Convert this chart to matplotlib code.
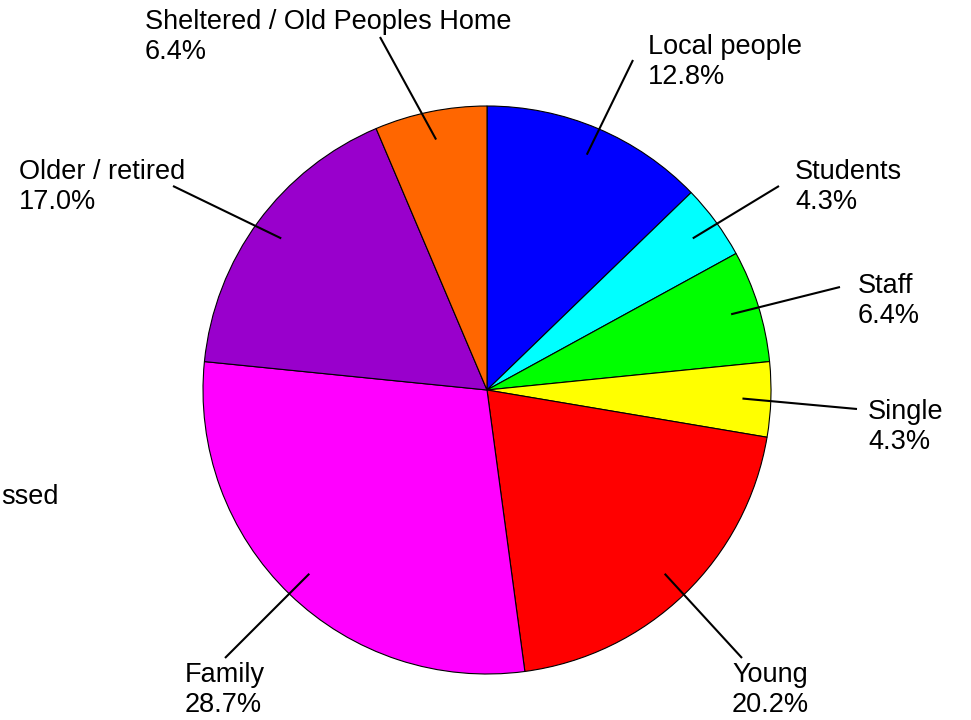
import matplotlib
matplotlib.use("Agg")
import matplotlib.pyplot as plt
import numpy as np

# ---- data ----
categories = ["Local people", "Students", "Staff", "Single", "Young",
              "Family", "Older / retired", "Sheltered / Old Peoples Home"]
counts = [12, 4, 6, 4, 19, 27, 16, 6]
colors = ["#0000FF", "#00FFFF", "#00FF00", "#FFFF00", "#FF0000",
          "#FF00FF", "#9900CC", "#FF6600"]
extra_label = "ssed"

# ---- layout (pixel positions in a 971x720 canvas) ----
W, H = 971, 720
CX, CY, R = 487, 390, 284
# outer end of leader lines
line_ends = [(633, 60), (779, 186), (840, 287), (857, 409),
             (742, 658), (225, 658), (173, 186), (380, 37)]
# text anchors: (left, top)
text_pos = [(648, 34), (795, 159), (858, 273), (868, 399),
            (732, 662), (185, 662), (19, 159), (145, 9)]


def P(px, py):
    return (px - CX) / R, (CY - py) / R


plt.rcParams["font.family"] = ["Liberation Sans", "DejaVu Sans"]
FS = 19.5

fig = plt.figure(figsize=(W / 100, H / 100), dpi=100)
ax = fig.add_axes([0, 0, 1, 1])

wedges, _ = ax.pie(counts, colors=colors, startangle=90, counterclock=False,
                   radius=1, wedgeprops=dict(edgecolor="black", linewidth=0.8))

total = sum(counts)
for w, cat, c, le, tp in zip(wedges, categories, counts, line_ends, text_pos):
    mid = np.deg2rad((w.theta1 + w.theta2) / 2)
    x0, y0 = 0.9 * np.cos(mid), 0.9 * np.sin(mid)
    x1, y1 = P(*le)
    ax.plot([x0, x1], [y0, y1], color="black", lw=1.5, solid_capstyle="butt")
    tx, ty = P(*tp)
    ax.text(tx, ty, f"{cat}\n{100 * c / total:.1f}%", ha="left", va="top",
            fontsize=FS, color="black", linespacing=1.2)

ex, ey = P(1, 504)
ax.text(ex, ey, extra_label, ha="left", va="baseline", fontsize=FS, color="black")

ax.set_xlim(-CX / R, (W - CX) / R)
ax.set_ylim(-(H - CY) / R, CY / R)
ax.set_aspect("auto")
ax.axis("off")

fig.savefig("out.png", dpi=100, facecolor="white")
